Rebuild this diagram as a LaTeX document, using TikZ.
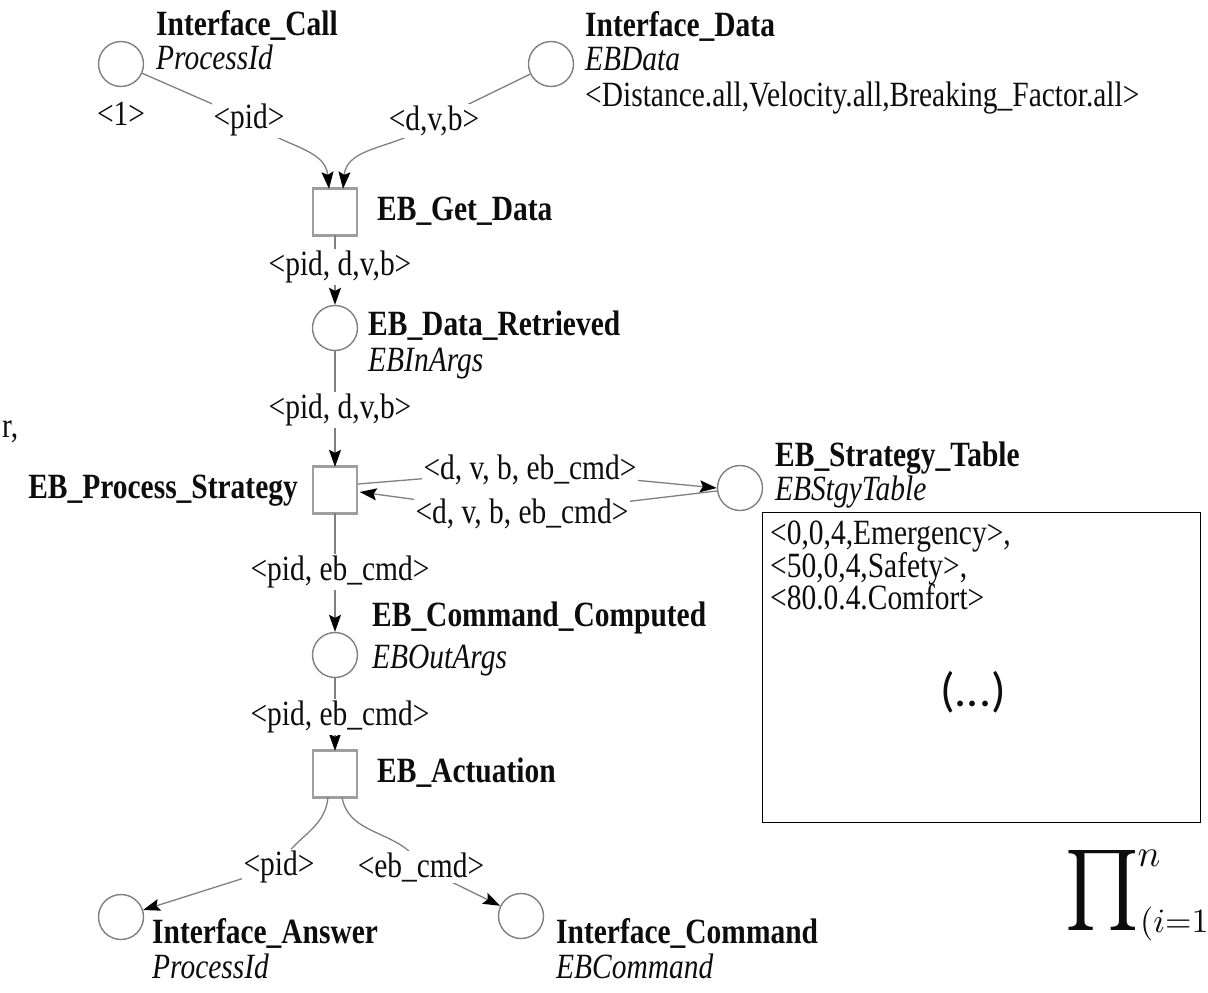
\documentclass[tikz,border=0pt]{standalone}
\usepackage{graphicx}
\usepackage{fontspec}
\setmainfont{Liberation Serif}[FakeStretch=0.83]
\newfontfamily\dotsfont{Carlito}
\usetikzlibrary{arrows.meta,calc}
\definecolor{placegray}{gray}{0.5}
\definecolor{transgray}{gray}{0.62}
\definecolor{arcgray}{gray}{0.5}
\definecolor{inkblack}{gray}{0.05}

\begin{document}
\begin{tikzpicture}[x=1pt,y=-1pt,
  every node/.style={font=\fontsize{35.5}{40}\selectfont, inner sep=0pt, text=inkblack},
  place/.style={circle, draw=placegray, line width=1.4pt, minimum size=45pt, fill=white},
  transition/.style={rectangle, draw=transgray, line width=1.4pt, minimum width=44pt, minimum height=45pt, fill=white},
  pname/.style={font=\fontsize{35.5}{40}\selectfont\bfseries},
  ptype/.style={font=\fontsize{35.5}{40}\selectfont\itshape},
  flow/.style={draw=arcgray, line width=1.3pt, -{Stealth[color=black,length=17pt,width=12pt,inset=3pt]}},
  insc/.style={fill=white, inner sep=1.5pt},
]
\useasboundingbox (0,0) rectangle (1208,993);

% places and transitions
\node[place] (ic) at (121,64) {};
\node[place] (id) at (551,64) {};
\node[transition] (gd) at (335,212) {};
\node[place] (dr) at (335,328) {};
\node[transition] (ps) at (335,490) {};
\node[place] (st) at (740,488) {};
\node[place] (cc) at (335,655) {};
\node[transition] (act) at (335,774) {};
\node[place] (ia) at (121,917) {};
\node[place] (icmd) at (521,916) {};

% heavier top and bottom edges of the transitions
\foreach \t in {gd,ps,act} {
  \draw[transgray, line width=3pt] (\t.north west) -- (\t.north east);
  \draw[transgray, line width=3pt] (\t.south west) -- (\t.south east);
}

% inscription positions on the bent arcs
\coordinate (c1) at (249,120);
\coordinate (c2) at (434,121);
\coordinate (c5) at (530,470);
\coordinate (c6) at (522,514);
\coordinate (c8) at (279,867);
\coordinate (c9) at (421,867);

% arcs
\draw[flow] (ic) -- (c1) to[out=-40,in=95] ([xshift=-6pt]gd.north);
\draw[flow] (id) -- (c2) to[out=-140,in=85] ([xshift=8pt]gd.north);
\draw[flow] (gd) -- (dr);
\draw[flow] (dr) -- (ps);
\draw[flow] ([yshift=6pt]ps.east) -- (c5) -- (st.west);
\draw[flow] ([yshift=-3pt]st.west) -- (c6) -- ([xshift=2pt,yshift=-2pt]ps.east);
\draw[flow] (ps) -- (cc);
\draw[flow] (cc) -- (act);
\draw[flow] ([xshift=-7pt]act.south) to[out=-95,in=65] (c8) -- (ia);
\draw[flow] ([xshift=7pt]act.south) to[out=-80,in=115] (c9) -- (icmd);

% arc inscriptions
\node[insc] (a1) at (c1) {<pid>};
\node[insc] (a2) at (c2) {<d,v,b>};
\node[insc] (a3) at (340,267) {<pid, d,v,b>};
\node[insc] (a4) at (340,410) {<pid, d,v,b>};
\node[insc] (a5) at (c5) {<d, v, b, eb\_cmd>};
\node[insc] (a6) at (c6) {<d, v, b, eb\_cmd>};
\node[insc] (a7) at (340,572) {<pid, eb\_cmd>};
\node[insc] (a8) at (340,717) {<pid, eb\_cmd>};
\node[insc] (a9) at (c8) {<pid>};
\node[insc] (a10) at (c9) {<eb\_cmd>};

% place and transition labels
\node[pname, anchor=base west] (icn) at (156,35) {Interface\_Call};
\node[ptype, anchor=base west] (ict) at (156,69) {ProcessId};
\node[anchor=center] (icm) at (121,114) {<1>};

\node[pname, anchor=base west] (idn) at (585,36) {Interface\_Data};
\node[ptype, anchor=base west] (idt) at (585,70) {EBData};
\node[anchor=base west] (idm) at (585,106) {<Distance.all,Velocity.all,Breaking\_Factor.all>};

\node[pname, anchor=base west] (gdn) at (377,220) {EB\_Get\_Data};

\node[pname, anchor=base west] (drn) at (368,335) {EB\_Data\_Retrieved};
\node[ptype, anchor=base west] (drt) at (368,371) {EBInArgs};

\node[anchor=base west] (frag) at (2,437) {r,};
\node[pname, anchor=base east] (psn) at (298,498) {EB\_Process\_Strategy};

\node[pname, anchor=base west] (stn) at (775,466) {EB\_Strategy\_Table};
\node[ptype, anchor=base west] (stt) at (775,500) {EBStgyTable};

\node[draw=black, line width=1pt, minimum width=438pt, minimum height=310pt] (tbl) at (981,667) {};
\node[anchor=base west] (r1) at (770,544) {<0,0,4,Emergency>,};
\node[anchor=base west] (r2) at (770,577) {<50,0,4,Safety>,};
\node[anchor=base west] (r3) at (770,609) {<80.0.4.Comfort>};
\node[font=\dotsfont\fontsize{48}{52}\selectfont] (r4) at (973,692) {(...)};

\node[pname, anchor=base west] (ccn) at (372,626) {EB\_Command\_Computed};
\node[ptype, anchor=base west] (cct) at (372,668) {EBOutArgs};

\node[pname, anchor=base west] (actn) at (377,782) {EB\_Actuation};

\node[pname, anchor=base west] (ian) at (152,943) {Interface\_Answer};
\node[ptype, anchor=base west] (iat) at (152,978) {ProcessId};

\node[pname, anchor=base west] (icmdn) at (556,943) {Interface\_Command};
\node[ptype, anchor=base west] (icmdt) at (556,978) {EBCommand};

% product sign
\node[font=\fontsize{10}{12}\selectfont] (prod) at (1102,890) {\scalebox{8}{$\textstyle\prod$}};
\node[font=\fontsize{10}{12}\selectfont] (produp) at (1149,858) {\scalebox{3.8}{$n$}};
\node[font=\fontsize{10}{12}\selectfont, anchor=west] (proddown) at (1140,924) {\scalebox{3.4}{$(i{=}1$}};
\end{tikzpicture}
\end{document}
